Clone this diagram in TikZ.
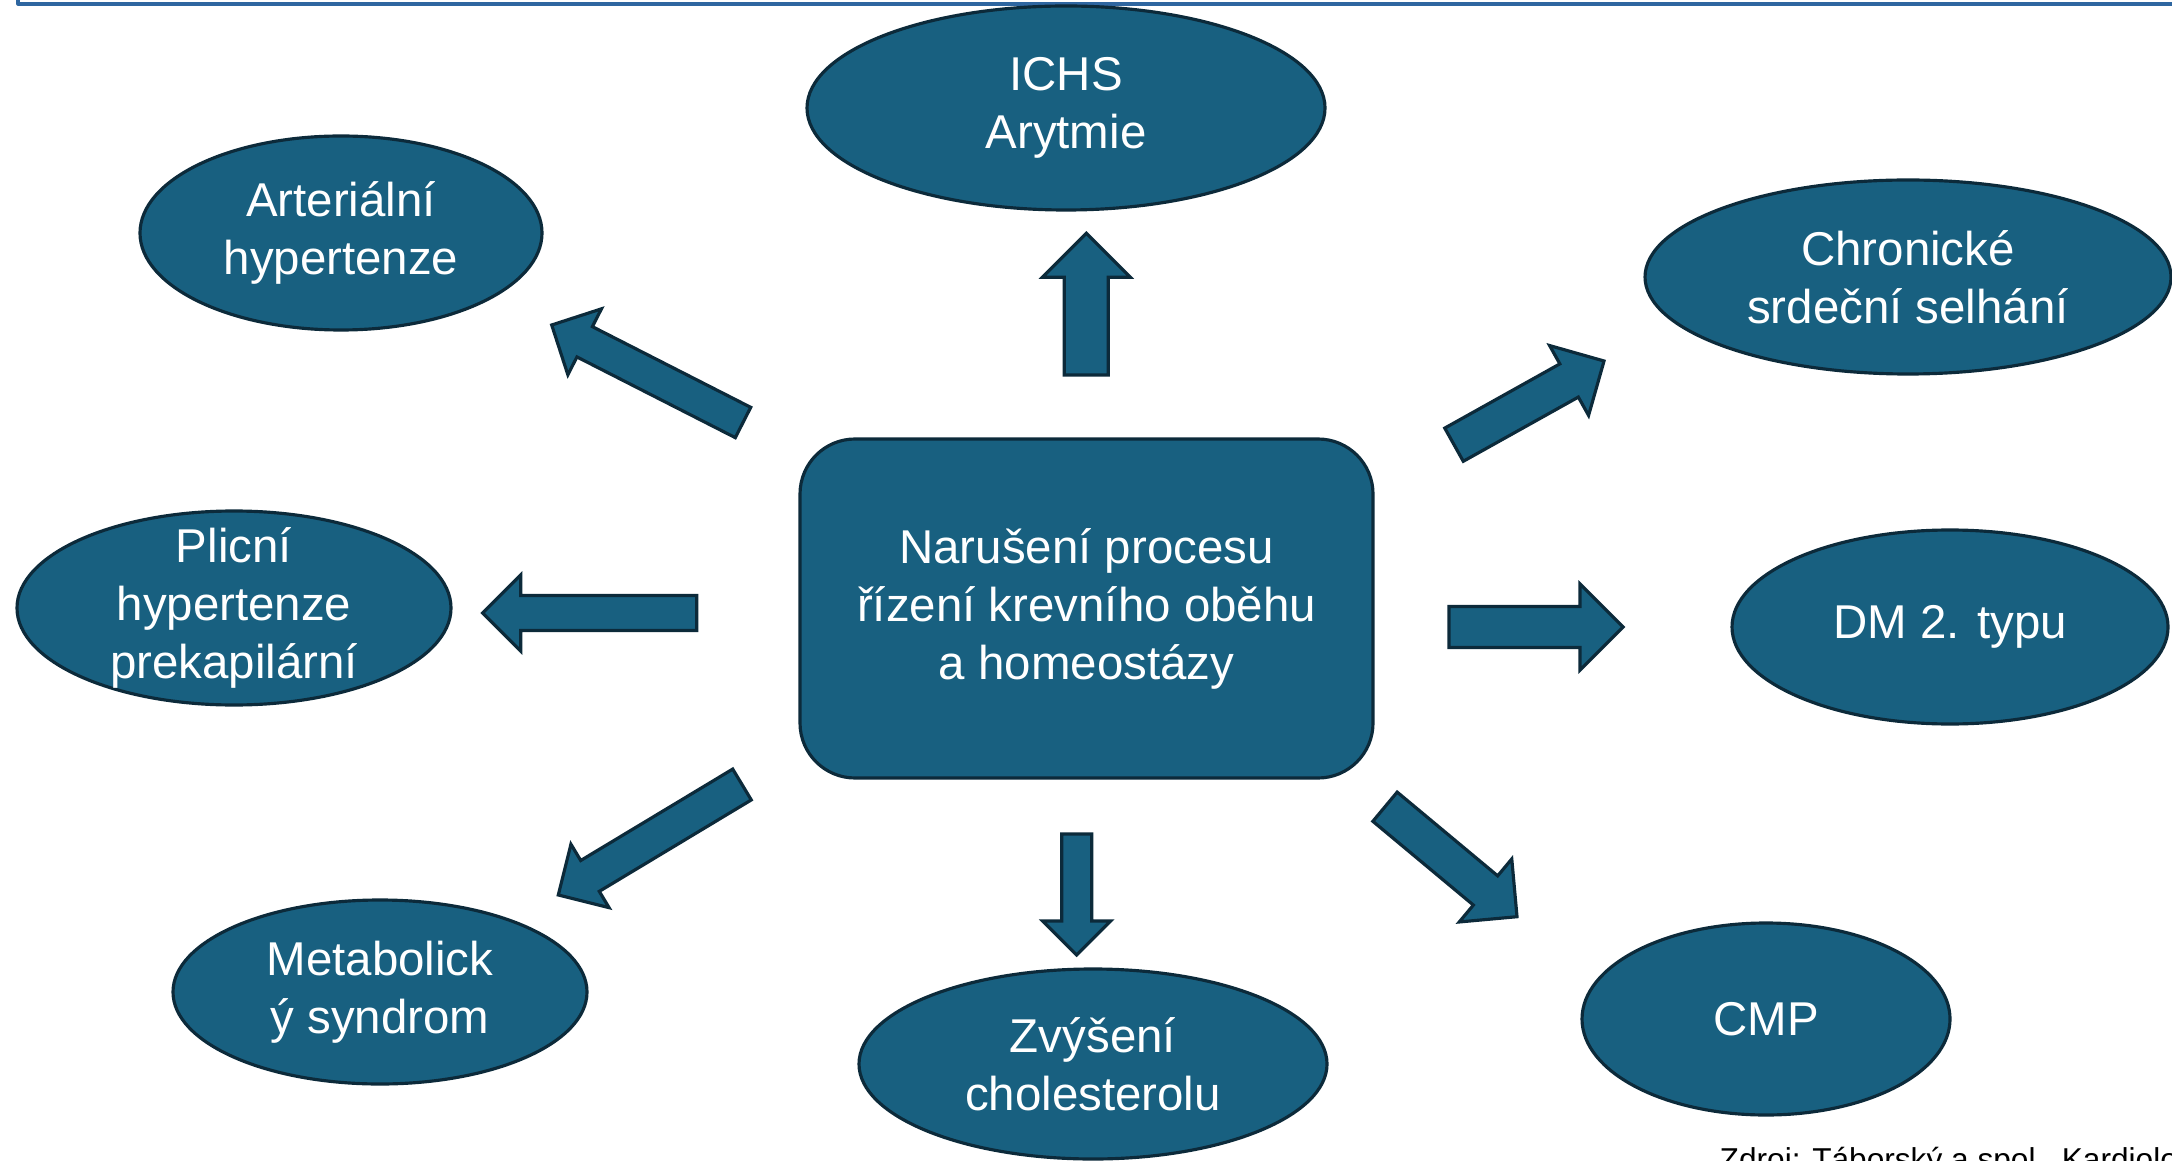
\documentclass[tikz,border=0pt]{standalone}
\usepackage{fontspec}
\setmainfont{Liberation Sans}
\usetikzlibrary{shapes.geometric,calc}
\definecolor{nodeblue}{RGB}{24,96,128}
\definecolor{edgeblue}{RGB}{12,42,58}
\definecolor{frameblue}{RGB}{46,102,160}
% block arrow: tail, tip, half shaft width, half head width (= head length)
\newcommand{\blockarr}[4]{%
	\coordinate (#2-base) at ($(#2)!#4!(#1)$);
	\draw[blockarrow] ($(#1)!#3!90:(#2)$) -- ($(#2-base)!#3!90:(#2)$) -- ($(#2-base)!#4!90:(#2)$) -- (#2)
	-- ($(#2-base)!#4!-90:(#2)$) -- ($(#2-base)!#3!-90:(#2)$) -- ($(#1)!#3!-90:(#2)$) -- cycle;}
\begin{document}
\begin{tikzpicture}[line join=round,font=\fontsize{13.5}{16.5}\selectfont,
	bubble/.style={ellipse,fill=nodeblue,draw=edgeblue,line width=.9pt,text=white,align=center,inner sep=0pt},
	core/.style={rectangle,rounded corners=.55cm,fill=nodeblue,draw=edgeblue,line width=.9pt,text=white,align=center},
	blockarrow/.style={fill=nodeblue,draw=edgeblue,line width=.9pt,line join=miter}]
			\useasboundingbox (0,0) rectangle (21.72,11.6);
			\draw[frameblue,line width=.9pt] (.18,11.7)--(.18,11.56)--(21.8,11.56);
			% centre
			\node[core,minimum width=5.73cm,minimum height=3.39cm] (core) at (10.865,5.515) {Narušení procesu\\řízení krevního oběhu\\a homeostázy};
			% ovals
			\node[bubble,minimum width=5.18cm,minimum height=2.04cm] (ichs) at (10.66,10.52) {ICHS\\Arytmie};
			\node[bubble,minimum width=4.02cm,minimum height=1.94cm] (art) at (3.41,9.27) {Arteriální\\hypertenze};
			\node[bubble,minimum width=5.26cm,minimum height=1.94cm] (chron) at (19.08,8.83) {Chronické\\srdeční selhání};
			\node[bubble,minimum width=4.34cm,minimum height=1.94cm] (plic) at (2.34,5.52) {};
			\node[text=white,align=center] (plictext) at (plic) {Plicní\\hypertenze\\prekapilární};
			\node[bubble,minimum width=4.36cm,minimum height=1.94cm] (dm) at (19.50,5.33) {DM 2. typu};
			\node[bubble,minimum width=4.14cm,minimum height=1.84cm] (metab) at (3.80,1.68) {Metabolick\\ý syndrom};
			\node[bubble,minimum width=4.68cm,minimum height=1.90cm] (chol) at (10.93,.96) {Zvýšení\\cholesterolu};
			\node[bubble,minimum width=3.68cm,minimum height=1.92cm] (cmp) at (17.66,1.41) {CMP};
			% arrows
			\coordinate (ichs-t) at (10.863,7.85); \coordinate (ichs-h) at (10.863,9.267);
			\coordinate (chol-t) at (10.767,3.26); \coordinate (chol-h) at (10.767,2.05);
			\coordinate (plic-t) at (6.967,5.47); \coordinate (plic-h) at (4.827,5.47);
			\coordinate (dm-t) at (14.49,5.33); \coordinate (dm-h) at (16.23,5.33);
			\coordinate (art-t) at (7.43,7.375); \coordinate (art-h) at (5.517,8.35);
			\coordinate (chron-t) at (14.54,7.153); \coordinate (chron-h) at (16.04,7.99);
			\coordinate (metab-t) at (7.42,3.755); \coordinate (metab-h) at (5.583,2.65);
			\coordinate (cmp-t) at (13.85,3.533); \coordinate (cmp-h) at (15.17,2.433);
			\blockarr{ichs-t}{ichs-h}{.22cm}{.44cm}
			\blockarr{chol-t}{chol-h}{.15cm}{.34cm}
			\blockarr{plic-t}{plic-h}{.175cm}{.38cm}
			\blockarr{dm-t}{dm-h}{.205cm}{.43cm}
			\blockarr{art-t}{art-h}{.17cm}{.37cm}
			\blockarr{chron-t}{chron-h}{.19cm}{.40cm}
			\blockarr{metab-t}{metab-h}{.18cm}{.37cm}
			\blockarr{cmp-t}{cmp-h}{.19cm}{.41cm}
			\node[anchor=base west,inner sep=0pt,font=\fontsize{9}{11}\selectfont] (zdroj) at (17.19,-.1) {Zdroj: Táborský a spol., Kardiolo};
	\end{tikzpicture}
\end{document}
